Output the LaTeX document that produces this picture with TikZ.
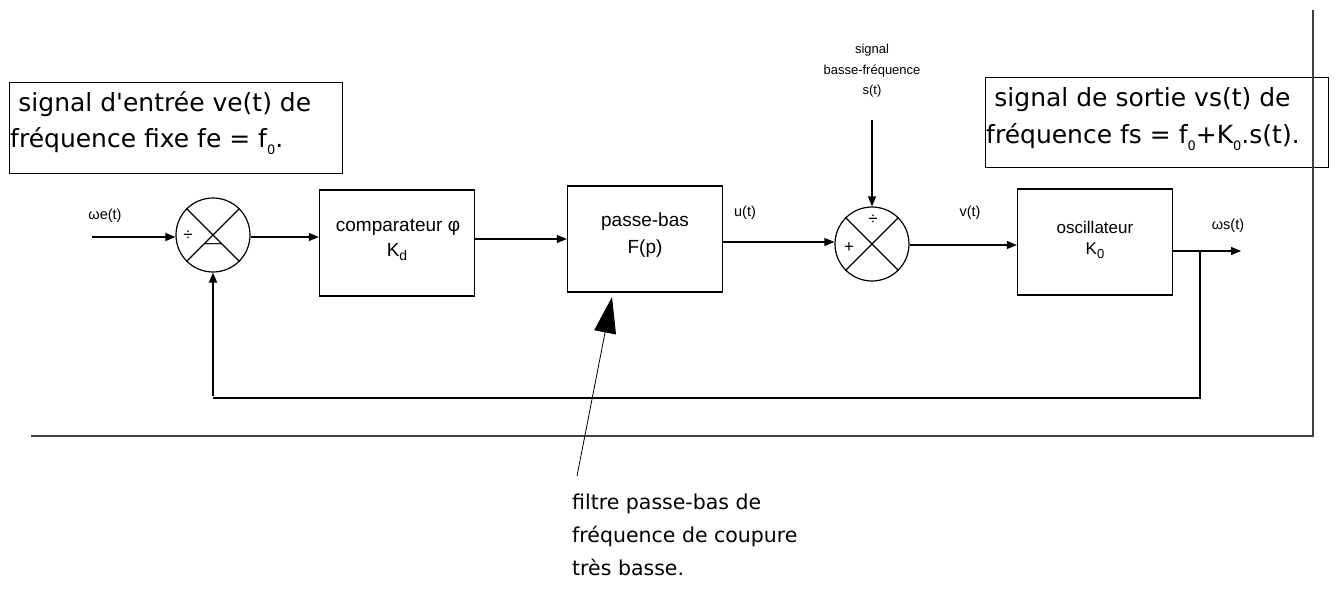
\documentclass[tikz,border=0pt]{standalone}
\usepackage{fontspec}
\setmainfont{DejaVu Sans}
\newfontfamily\labfont{Liberation Sans}
\usetikzlibrary{arrows.meta,calc}
\newcommand\mysub[1]{\raisebox{-0.5ex}{\fontsize{13}{13}\selectfont #1}}
\begin{document}
\begin{tikzpicture}[x=1pt,y=-1pt,
  blk/.style={draw, line width=1.3pt, minimum width=155pt, minimum height=106pt, inner sep=0pt},
  sumc/.style={draw, circle, line width=1.2pt, minimum size=74pt, inner sep=0pt},
  notebox/.style={draw, line width=0.8pt, inner sep=0pt, anchor=north west},
  big/.style={font=\fontsize{25}{30}\selectfont, inner sep=0pt, anchor=west},
  blktxt/.style={font=\labfont\fontsize{19}{22}\selectfont, inner sep=0pt},
  lbl/.style={font=\labfont\fontsize{14.5}{17}\selectfont, inner sep=0pt},
  sgn/.style={font=\labfont\fontsize{17}{17}\selectfont, inner sep=0pt},
  sig/.style={line width=1.2pt, -{Triangle[length=10pt,width=8pt]}},
  fb/.style={line width=2.8pt},
  frame/.style={line width=1.8pt, draw=black!75},
]
\useasboundingbox (0,0) rectangle (1336,597);

% text boxes
\node[notebox, minimum width=333pt, minimum height=91pt] (inbox) at (9,82) {};
\node[big] (intxt1) at (12,104) {\hspace{0.25em}signal d\textquotesingle entrée ve(t) de};
\node[big] (intxt2) at (10,141) {fréquence fixe fe = f\mysub{0}.};

\node[notebox, minimum width=343pt, minimum height=90pt] (outbox) at (985,77) {};
\node[big] (outtxt1) at (988,100) {\hspace{0.25em}signal de sortie vs(t) de};
\node[big] (outtxt2) at (986,137) {fréquence fs = f\mysub{0}+K\mysub{0}.s(t).};

% summing junctions
\node[sumc] (s1) at (213,235) {};
\draw[line width=1.2pt] (s1.north west) -- (s1.south east) (s1.north east) -- (s1.south west);
\node[sgn] (s1p) at ($(s1.center)+(-25,1)$) {÷};
\node[sgn] (s1m) at ($(s1.center)+(0,11)$) {—};

\node[sumc] (s2) at (872,244) {};
\draw[line width=1.2pt] (s2.north west) -- (s2.south east) (s2.north east) -- (s2.south west);
\node[sgn] (s2p) at ($(s2.center)+(1,-24)$) {÷};
\node[sgn] (s2q) at ($(s2.center)+(-23,4)$) {+};

% blocks
\node[blk] (cmp) at (397,243) {};
\node[blktxt] (cmpt1) at (398,227) {comparateur φ};
\node[blktxt] (cmpt2) at (397,252) {K\raisebox{-0.45ex}{\fontsize{14}{14}\selectfont d}};

\node[blk] (pb) at (645,239) {};
\node[blktxt] (pbt1) at (645,222) {passe-bas};
\node[blktxt] (pbt2) at (645,249) {F(p)};

\node[blk] (osc) at (1095,242) {};
\node[blktxt, font=\labfont\fontsize{17}{20}\selectfont] (osct1) at (1095,227) {oscillateur};
\node[blktxt, font=\labfont\fontsize{17}{20}\selectfont] (osct2) at (1095,251) {K\raisebox{-0.45ex}{\fontsize{13}{13}\selectfont 0}};

% labels
\node[lbl] (we) at (105,216) {ωe(t)};
\node[lbl] (ut) at (745,213) {u(t)};
\node[lbl] (vt) at (970,213) {v(t)};
\node[lbl] (ws) at (1228,226) {ωs(t)};
\node[lbl, align=center, font=\labfont\fontsize{13}{20.5}\selectfont] (sbf) at (872,71) {signal\\basse-fréquence\\s(t)};

% coordinates
\coordinate (inp) at (92,237);
\coordinate (stop) at (872,120);
\coordinate (wsend) at (1241,251);
\coordinate (fbr) at (1200,251);
\coordinate (fbbr) at (1200,398);
\coordinate (fbbl) at (213,398);
\coordinate (fbl1) at (213,396);

% signal connectors
\draw[sig] (inp) -- (inp -| s1.west);
\draw[sig] (s1.east |- 0,237) -- (cmp.west |- 0,237);
\draw[sig] (cmp.east |- 0,239) -- (pb.west |- 0,239);
\draw[sig] (pb.east |- 0,242) -- (s2.west |- 0,242);
\draw[sig] (stop) -- (s2.north);
\draw[sig] (s2.east |- 0,245) -- (osc.west |- 0,245);
\draw[sig] (osc.east |- 0,251) -- (wsend);

% feedback
\draw[fb] (fbr) -- (fbbr) -- (fbbl);
\draw[line width=2pt, -{Triangle[length=10pt,width=8pt]}] (fbl1) -- (s1.south);

% frame lines
\coordinate (frtop) at (1313,10);
\coordinate (frcorner) at (1313,436);
\coordinate (frleft) at (31,436);
\draw[frame] (frtop) -- (frcorner) -- (frleft);

% annotation
\coordinate (ntail) at (577,476);
\coordinate (ntip) at (612,297);
\draw[line width=0.8pt, -{Triangle[length=36pt,width=22pt]}] (ntail) -- (ntip);
\node[anchor=north west, inner sep=0pt, align=left, font=\fontsize{20.5}{33}\selectfont] (note) at (572,494) {filtre passe-bas de\\fréquence de coupure\\très basse.};
\end{tikzpicture}
\end{document}
